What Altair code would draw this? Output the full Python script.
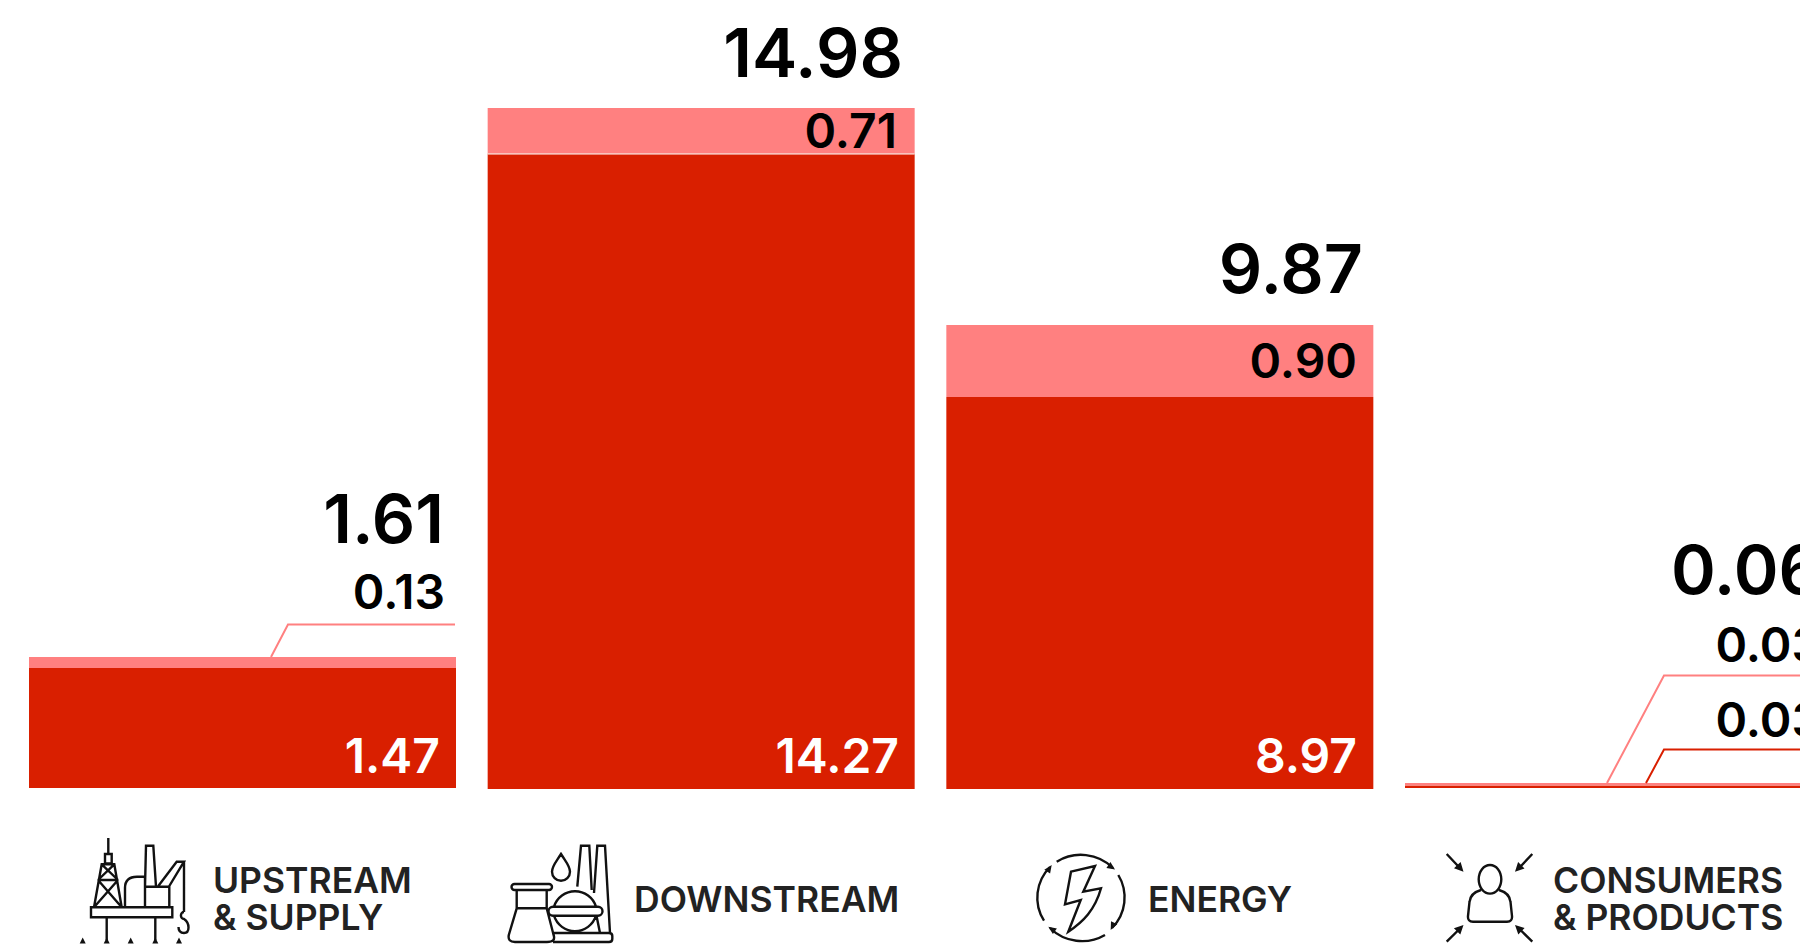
import math
import altair as alt
import pandas as pd

categories = ["Upstream & Supply", "Downstream", "Energy", "Consumers & Products"]
base_values = [1.47, 14.27, 8.97, 0.03]
top_values = [0.13, 0.71, 0.90, 0.03]
total_values = [1.61, 14.98, 9.87, 0.06]

DARK = "#d91f00"
PALE = "#ff8080"
FONT = "Inter"
OX, OY = 8, 8  # page margin


def vy(page_y):
    return page_y - OY


# Non-linear value axis, as in the reference (stops)
stops = [0, 0.03, 0.06, 1.47, 1.61, 8.97, 9.87, 14.27, 14.98]
stop_pages = [788, 785.6, 783, 668, 657, 397, 325, 153.5, 108]
yscale = alt.Scale(domain=stops, range=[vy(p) for p in stop_pages], nice=False, zero=False, clamp=False)
xscale = alt.Scale(domain=categories, range=[21, 1824], paddingInner=31.67 / 458.67, paddingOuter=0)

rows = pd.DataFrame({
    "cat": categories,
    "zero": [0.0] * 4,
    "base": base_values,
    "top": total_values,
})
X = alt.X("cat:N", scale=xscale, axis=None, sort=categories)
Y = alt.Y("base:Q", scale=yscale, axis=None)

dark = alt.Chart(rows).mark_bar(color=DARK).encode(x=X, y=Y, y2=alt.Y2("zero:Q"))
pale = alt.Chart(rows).mark_bar(color=PALE).encode(
    x=X, y=alt.Y("top:Q", scale=yscale, axis=None), y2=alt.Y2("base:Q"))
# 1px white seam under the pale block of the Downstream bar
seam = alt.Chart(rows[rows.cat == categories[1]]).mark_rule(color="#ffffff", strokeWidth=1, yOffset=0.5).encode(
    y=Y, x=alt.value(479.67), x2=alt.value(906.67))


# Downstream and Energy stand 1px lower than the other two
def foot_rule(left):
    return alt.Chart(pd.DataFrame({"zero": [0.0]})).mark_rule(color=DARK, strokeWidth=1, yOffset=0.5).encode(
        y=alt.Y("zero:Q", scale=yscale, axis=None), x=alt.value(left), x2=alt.value(left + 427))


feet = [foot_rule(479.67), foot_rule(938.33)]


def text(s, x, base, size, color="#000000", weight=600, align="right"):
    return alt.Chart(pd.DataFrame({"t": [s]})).mark_text(
        align=align, baseline="alphabetic", font=FONT, fontSize=size, fontWeight=weight, color=color
    ).encode(text="t:N", x=alt.value(x - OX), y=alt.value(vy(base)))


def fmt(v):
    return f"{v:.2f}"


BIG, MID = 68, 48
labels = [
    text(fmt(total_values[0]), 444, 543, BIG),
    text(fmt(total_values[1]), 903, 77, BIG),
    text(fmt(total_values[2]), 1363, 293, BIG),
    text(fmt(total_values[3]), 1822, 594, BIG),
    text(fmt(top_values[0]), 445, 609, MID),
    text(fmt(top_values[1]), 897, 148, MID),
    text(fmt(top_values[2]), 1357, 378, MID),
    text(fmt(top_values[3]), 1822, 662, MID),
    text(fmt(base_values[3]), 1822, 737, MID),
    text(fmt(base_values[0]), 440, 773, MID, "#ffffff"),
    text(fmt(base_values[1]), 899, 773, MID, "#ffffff"),
    text(fmt(base_values[2]), 1357, 773, MID, "#ffffff"),
]

CAT = 35.5
INK = "#222222"
cat_labels = [
    text("UPSTREAM", 213, 893, CAT, INK, 600, "left"),
    text("& SUPPLY", 213, 930, CAT, INK, 600, "left"),
    text("DOWNSTREAM", 634, 912, CAT, INK, 600, "left"),
    text("ENERGY", 1148, 912, CAT, INK, 600, "left"),
    text("CONSUMERS", 1553, 893, CAT, INK, 600, "left"),
    text("& PRODUCTS", 1553, 930, CAT, INK, 600, "left"),
]


def shape(path, color="#111111", width=2.4, filled=False):
    # size 4 makes one path unit one pixel; (-8,-8) makes path units page pixels
    kw = dict(filled=True, fill=color, strokeWidth=0) if filled else dict(filled=False, stroke=color, strokeWidth=width)
    return alt.Chart(pd.DataFrame({"a": [0]})).mark_point(
        shape=path, size=4, opacity=1, **kw
    ).encode(x=alt.value(-OX), y=alt.value(-OY))


def head(tx, ty, fx, fy, length=8.5, half=4.0):
    a = math.atan2(ty - fy, tx - fx)
    bx, by = tx - length * math.cos(a), ty - length * math.sin(a)
    nx, ny = -math.sin(a) * half, math.cos(a) * half
    return f"M{tx:.1f},{ty:.1f}L{bx + nx:.1f},{by + ny:.1f}L{bx - nx:.1f},{by - ny:.1f}Z"


leaders = [
    shape("M271,657L288,624.5L455,624.5", PALE, 2),
    shape("M1607,783L1664,675.5L1832,675.5", PALE, 2),
    shape("M1646,783L1664,749.5L1832,749.5", DARK, 2),
]

upstream = (
    "M108.3,838L108.3,854M105,854L111.7,854L111.7,863.5L105,863.5Z"
    "M101.7,864.3L114.3,864.3L121.7,907.3L94,907.3Z"
    "M101.7,864.3L118,880M114.3,864.3L98,880M98,880L118,880"
    "M98,880L121.7,907.3M118,880L94,907.3"
    "M91,907.3L172.3,907.3L172.3,917.3L91,917.3Z"
    "M106.7,917.3L106.7,940M155.3,917.3L155.3,940"
    "M125,907.3L125,888Q125,876.7 137,876.7L145,876.7"
    "M145,886.7L146,845.7L153.3,845.7L156,886.7"
    "M145,886.7L169.3,886.7L169.3,907.3M145,876L145,907.3"
    "M158.3,886L176.7,861.7L184,861.7L169.3,886"
    "M184,861.7L184,912"
    "M184,912A3,3.4 0 1 0 184,919C190,923 190,933 184,933C180,933 178.5,930 178.5,927"
)
upstream_fill = "".join(
    f"M{x - 3},943.5L{x},937.5L{x + 3},943.5Z" for x in [82.7, 106.7, 130.7, 155.3, 179]
)
downstream = (
    "M514.5,884L549,884A3,3 0 0 1 549,890L514.5,890A3,3 0 0 1 514.5,884Z"
    "M516.7,890L516.7,908.3L546.7,908.3L546.7,890"
    "M516.7,908.3L508.8,935Q507.5,942 515,942L547,942Q556,942 553.6,935L546.7,908.3"
    "M561,854C556,862 552,866 552,871.7A9,9 0 0 0 570,871.7C570,866 566,862 561,854Z"
    "M554,906.7A22,22 0 0 1 596,906.7M554,915.7A22,22 0 0 0 596,915.7"
    "M553,906.7L598,906.7A4.5,4.5 0 0 1 598,915.7L553,915.7A4.5,4.5 0 0 1 553,906.7Z"
    "M577.3,886.7L581,845.7L589.3,845.7L591.7,890"
    "M594,893L597.3,845.7L605,845.7L610,933M600,933L596.7,916.7"
    "M552,933L609,933Q612.3,933 612.3,936L612.3,939Q612.3,942 609,942L553,942"
)
energy = (
    "M1071,871.7L1095,866L1083.3,891.7L1101,888.3C1095,910 1083,922 1068.3,931.7"
    "L1080.7,900L1065,904.3Z"
    "M1056.7,861.7A45,44 0 0 1 1113,868"
    "M1118.3,875A45,44 0 0 1 1112,928"
    "M1105,935A45,44 0 0 1 1050,928"
    "M1044,920.7A45,44 0 0 1 1050,867"
)
energy_fill = (
    head(1115, 869.5, 1107, 864, 8, 3.5)
    + head(1110.7, 930, 1114.5, 922, 8, 3.5)
    + head(1048.3, 926.7, 1056, 932, 8, 3.5)
    + head(1051.7, 865, 1047, 872, 8, 3.5)
)
consumers = (
    "M1478.7,879.3A11.3,14.3 0 1 1 1501.3,879.3A11.3,14.3 0 1 1 1478.7,879.3Z"
    "M1481,890C1474,892 1470,896 1469.5,902L1468,916Q1467.5,921.7 1473,921.7L1507,921.7"
    "Q1512.5,921.7 1512,916L1510.5,902C1510,896 1506,892 1499,890"
    "M1446.7,854L1458,866M1532.3,854L1521,866M1446.7,941.7L1458,930.5M1532.3,941.7L1521,930.5"
)
consumers_fill = (
    head(1463.5, 871.7, 1446.7, 854, 9, 4.5)
    + head(1515, 871.7, 1532.3, 854, 9, 4.5)
    + head(1463.5, 925, 1446.7, 941.7, 9, 4.5)
    + head(1515, 925, 1532.3, 941.7, 9, 4.5)
)
icons = [
    shape(upstream), shape(upstream_fill, filled=True),
    shape(downstream), shape(energy), shape(energy_fill, filled=True),
    shape(consumers), shape(consumers_fill, filled=True),
]

chart = alt.layer(dark, pale, seam, *feet, *leaders, *labels, *cat_labels, *icons).properties(
    width=1792,
    height=936,
    padding=0,
    autosize=alt.AutoSizeParams(type="none"),
).configure_view(stroke=None).resolve_scale(y="shared", x="shared")

chart.save("out.html", embed_options={"renderer": "svg", "actions": False})
